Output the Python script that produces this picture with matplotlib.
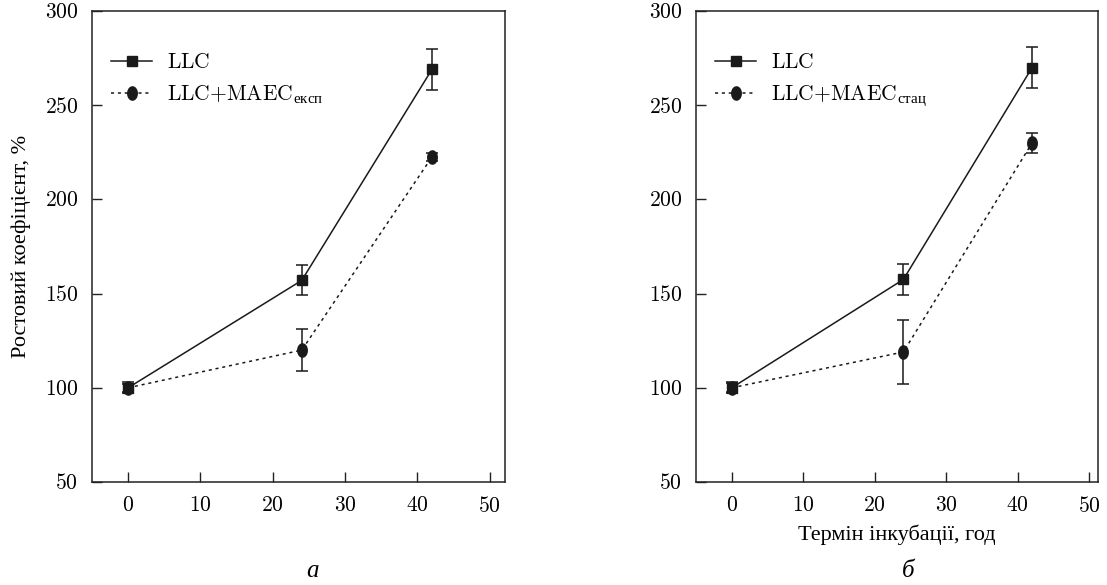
import numpy as np
import matplotlib
matplotlib.use("Agg")
import matplotlib.pyplot as plt
from matplotlib.path import Path
from matplotlib.ticker import FuncFormatter

plt.rcParams['font.family'] = ['Liberation Serif', 'DejaVu Serif']
plt.rcParams['mathtext.fontset'] = 'cm'

# Data
hours = [0, 24, 42]
llc_a = [100, 157, 269]
llc_a_err = [3, 8, 11]
maec_a = [100, 120, 222.5]
maec_a_err = [2, 11, 2]

llc_b = [100, 157.5, 270]
llc_b_err = [3, 8, 11]
maec_b = [100, 119, 230]
maec_b_err = [2.5, 17, 5.5]

label_llc = r'$\mathrm{LLC}$'
label_a = r'$\mathrm{LLC{+}MAEC}_{\mathregular{експ}}$'
label_b = r'$\mathrm{LLC{+}MAEC}_{\mathregular{стац}}$'
xticks = [0, 10, 20, 30, 40, 50]
yticks = [50, 100, 150, 200, 250, 300]

# elliptical marker
t = np.linspace(0, 2 * np.pi, 40)
ell = Path(np.column_stack([0.72 * np.cos(t), np.sin(t)]), closed=True)

fig = plt.figure(figsize=(11.07, 5.85), dpi=100)
ax1 = fig.add_axes([0.0831, 0.1761, 0.3731, 0.8051])
ax2 = fig.add_axes([0.6287, 0.1761, 0.3631, 0.8051])

def cmfmt(v, pos):
    return r'$\mathrm{%d}$' % v

for ax, llc, llce, mae, maee, lab, xr in [
        (ax1, llc_a, llc_a_err, maec_a, maec_a_err, label_a, 52.1),
        (ax2, llc_b, llc_b_err, maec_b, maec_b_err, label_b, 51.2)]:
    ax.errorbar(hours, llc, yerr=llce, color='#1a1a1a', lw=1.1, ls='-',
                marker='s', ms=6.5, capsize=4, elinewidth=1.1, capthick=1.1,
                label=label_llc)
    ax.errorbar(hours, mae, yerr=maee, color='#1a1a1a', lw=1.1, ls=(0, (2, 2.5)),
                marker=ell, ms=9.5, capsize=4, elinewidth=1.1, capthick=1.1,
                label=lab)
    ax.set_xlim(-5, xr)
    ax.set_ylim(50, 300)
    ax.set_xticks(xticks)
    ax.set_yticks(yticks)
    ax.xaxis.set_major_formatter(FuncFormatter(cmfmt))
    ax.yaxis.set_major_formatter(FuncFormatter(cmfmt))
    ax.tick_params(direction='in', length=7, width=1, labelsize=15.5,
                   top=False, right=False, color='#222222')
    ax.tick_params(axis='x', pad=11)
    ax.tick_params(axis='y', pad=10)
    for s in ax.spines.values():
        s.set_linewidth(1.1)
        s.set_color('#222222')
    handles, labels = ax.get_legend_handles_labels()
    hs = [h[0] for h in handles]
    leg = ax.legend(hs, labels, loc='upper left', frameon=False, fontsize=15.5,
                    handlelength=1.9, handletextpad=0.7, borderaxespad=0.5,
                    labelspacing=0.5, bbox_to_anchor=(0.0, 0.952))

ax1.set_ylabel('Ростовий коефіцієнт, %', fontsize=16, labelpad=10)
ax2.set_xlabel('Термін інкубації, год', fontsize=16, labelpad=5)

fig.text(0.282, 0.005, 'а', fontsize=18, style='italic', ha='center', va='bottom')
fig.text(0.820, 0.005, 'б', fontsize=18, style='italic', ha='center', va='bottom')

fig.savefig('out.png', dpi=100)
